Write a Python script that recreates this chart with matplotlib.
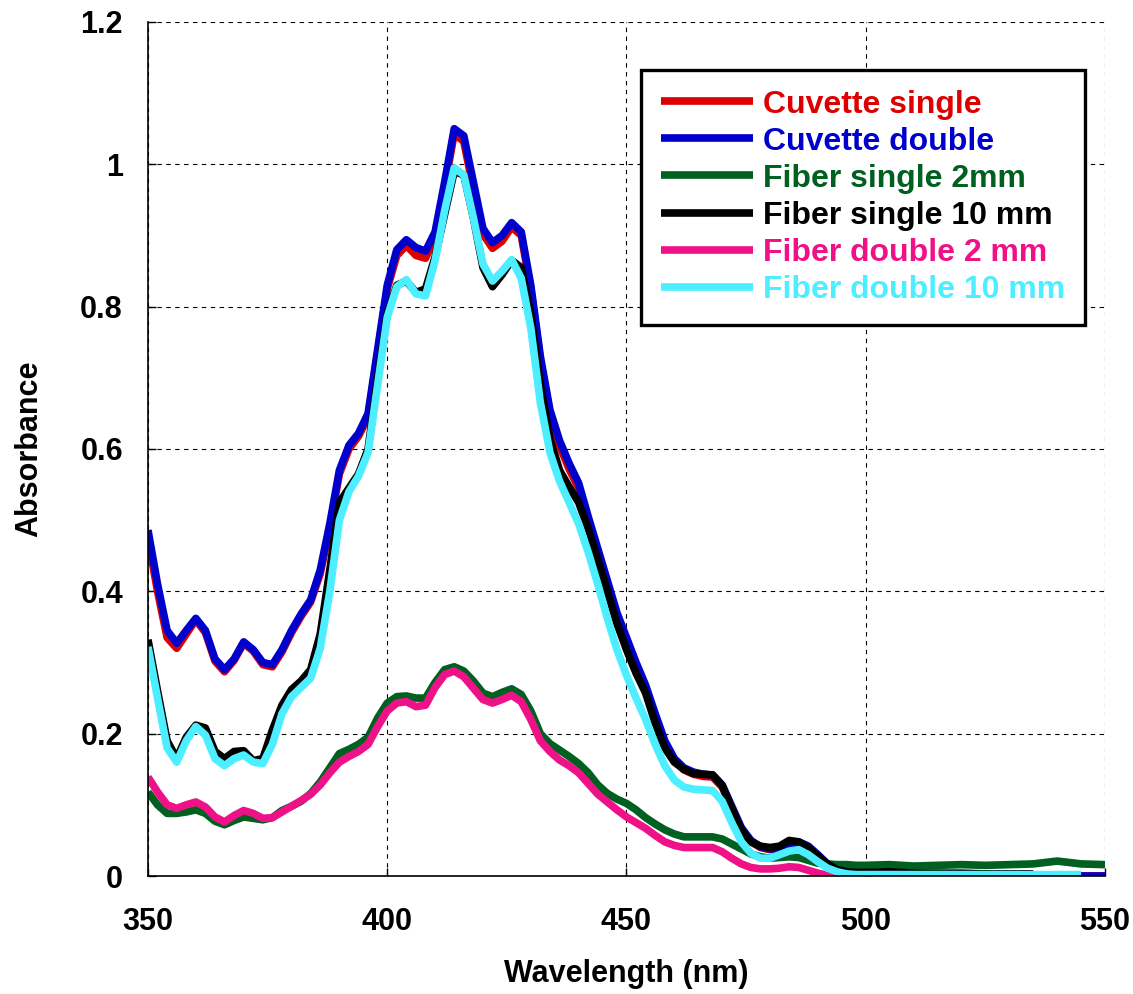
import numpy as np
import matplotlib
matplotlib.use("Agg")
import matplotlib.pyplot as plt

plt.rcParams['font.family'] = ['Liberation Sans', 'DejaVu Sans']
plt.rcParams['font.weight'] = 'bold'

# wavelength grid (nm)
wl = list(range(350, 501, 2)) + list(range(505, 551, 5))
nan = np.nan

cuvette_single = [
    0.475, 0.400, 0.335, 0.320, 0.340, 0.360, 0.342, 0.302, 0.287, 0.303,
    0.327, 0.316, 0.297, 0.294, 0.315, 0.342, 0.365, 0.385, 0.425, 0.490,
    0.565, 0.600, 0.618, 0.645, 0.735, 0.825, 0.872, 0.886, 0.872, 0.868,
    0.898, 0.968, 1.043, 1.032, 0.965, 0.902, 0.882, 0.892, 0.912, 0.900,
    0.825, 0.725, 0.650, 0.605, 0.572, 0.545, 0.498, 0.455, 0.410, 0.365,
    0.330, 0.296, 0.264, 0.224, 0.186, 0.162, 0.149, 0.143, 0.140, 0.139,
    0.125, 0.095, 0.066, 0.048, 0.040, 0.037, 0.037, 0.042, 0.046, 0.040,
    0.028, 0.015, 0.006, 0.002, 0.001, 0.000,
    0.000, 0.000, 0.000, 0.000, 0.000, 0.000, 0.000, 0.000, 0.000, 0.000]

cuvette_double = [
    0.486, 0.410, 0.345, 0.327, 0.345, 0.362, 0.345, 0.305, 0.290, 0.305,
    0.329, 0.318, 0.300, 0.297, 0.318, 0.345, 0.368, 0.388, 0.430, 0.495,
    0.570, 0.605, 0.622, 0.650, 0.740, 0.830, 0.880, 0.894, 0.883, 0.878,
    0.905, 0.975, 1.050, 1.040, 0.975, 0.910, 0.890, 0.900, 0.918, 0.905,
    0.830, 0.730, 0.655, 0.612, 0.580, 0.552, 0.505, 0.460, 0.415, 0.370,
    0.335, 0.300, 0.268, 0.228, 0.190, 0.165, 0.152, 0.146, 0.143, 0.142,
    0.128, 0.098, 0.068, 0.050, 0.041, 0.038, 0.038, 0.043, 0.048, 0.042,
    0.030, 0.017, 0.008, 0.004, 0.002, 0.001,
    0.000, 0.000, 0.000, 0.000, 0.000, 0.000, 0.000, 0.000, 0.000, 0.000]

fiber_single_2 = [
    0.118, 0.100, 0.088, 0.088, 0.090, 0.093, 0.088, 0.077, 0.072, 0.078,
    0.083, 0.081, 0.079, 0.082, 0.092, 0.098, 0.105, 0.116, 0.132, 0.152,
    0.172, 0.178, 0.185, 0.195, 0.222, 0.243, 0.252, 0.253, 0.250, 0.250,
    0.272, 0.290, 0.294, 0.288, 0.274, 0.257, 0.252, 0.258, 0.263, 0.255,
    0.232, 0.200, 0.186, 0.177, 0.168, 0.158, 0.145, 0.128, 0.116, 0.108,
    0.102, 0.093, 0.082, 0.073, 0.065, 0.059, 0.055, 0.055, 0.055, 0.055,
    0.052, 0.045, 0.038, 0.031, 0.027, 0.025, 0.026, 0.027, 0.026, 0.022,
    0.018, 0.017, 0.016, 0.016, 0.015, 0.015,
    0.016, 0.014, 0.015, 0.016, 0.015, 0.016, 0.017, 0.021, 0.017, 0.016]

fiber_single_10 = [
    0.332, 0.260, 0.190, 0.165, 0.195, 0.212, 0.208, 0.175, 0.165, 0.175,
    0.176, 0.162, 0.165, 0.205, 0.240, 0.262, 0.274, 0.290, 0.340, 0.430,
    0.525, 0.545, 0.565, 0.600, 0.700, 0.790, 0.830, 0.836, 0.820, 0.825,
    0.870, 0.930, 0.990, 0.985, 0.925, 0.855, 0.828, 0.845, 0.865, 0.855,
    0.790, 0.690, 0.615, 0.570, 0.547, 0.525, 0.488, 0.445, 0.400, 0.355,
    0.318, 0.285, 0.257, 0.215, 0.180, 0.160, 0.150, 0.144, 0.143, 0.142,
    0.127, 0.095, 0.065, 0.048, 0.042, 0.040, 0.042, 0.050, 0.048, 0.040,
    0.028, 0.017, 0.009, 0.006, 0.005, 0.005,
    0.006, 0.004, 0.004, 0.004, 0.003, 0.003, 0.003, nan, nan, nan]

fiber_double_2 = [
    0.139, 0.118, 0.100, 0.095, 0.100, 0.104, 0.097, 0.083, 0.076, 0.085,
    0.092, 0.088, 0.081, 0.082, 0.090, 0.098, 0.106, 0.115, 0.128, 0.145,
    0.160, 0.168, 0.175, 0.185, 0.210, 0.232, 0.243, 0.245, 0.238, 0.240,
    0.265, 0.283, 0.288, 0.280, 0.264, 0.248, 0.243, 0.248, 0.254, 0.245,
    0.220, 0.190, 0.175, 0.163, 0.155, 0.145, 0.130, 0.115, 0.104, 0.093,
    0.083, 0.075, 0.067, 0.057, 0.048, 0.043, 0.040, 0.040, 0.040, 0.040,
    0.034, 0.025, 0.017, 0.012, 0.010, 0.010, 0.011, 0.013, 0.012, 0.008,
    0.004, 0.001, 0.000, nan, nan, nan,
    nan, nan, nan, nan, nan, nan, nan, nan, nan, nan]

fiber_double_10 = [
    0.322, 0.250, 0.180, 0.160, 0.190, 0.210, 0.198, 0.165, 0.155, 0.165,
    0.170, 0.160, 0.158, 0.185, 0.228, 0.252, 0.265, 0.278, 0.320, 0.400,
    0.500, 0.540, 0.562, 0.595, 0.690, 0.785, 0.828, 0.838, 0.818, 0.815,
    0.865, 0.935, 0.995, 0.985, 0.925, 0.860, 0.836, 0.850, 0.866, 0.840,
    0.770, 0.665, 0.595, 0.555, 0.525, 0.495, 0.455, 0.410, 0.362, 0.318,
    0.282, 0.250, 0.220, 0.185, 0.155, 0.135, 0.125, 0.122, 0.121, 0.120,
    0.105, 0.075, 0.048, 0.032, 0.025, 0.025, 0.030, 0.035, 0.037, 0.030,
    0.020, 0.011, 0.006, 0.003, 0.002, 0.002,
    0.002, 0.002, 0.002, 0.002, 0.002, 0.002, 0.002, 0.002, 0.002, nan]

series = [
    ("Cuvette single", cuvette_single, "#dd0000"),
    ("Cuvette double", cuvette_double, "#0000cc"),
    ("Fiber single 2mm", fiber_single_2, "#006020"),
    ("Fiber single 10 mm", fiber_single_10, "#000000"),
    ("Fiber double 2 mm", fiber_double_2, "#ee1188"),
    ("Fiber double 10 mm", fiber_double_10, "#4deeff"),
]

fig = plt.figure(figsize=(11.33, 9.94), dpi=100)
ax = fig.add_axes([0.1306, 0.1187, 0.8447, 0.8592])

for name, vals, col in series:
    ax.plot(wl, vals, color=col, lw=5.5, label=name,
            solid_capstyle='butt', solid_joinstyle='round')

ax.set_xlim(350, 550)
ax.set_ylim(0, 1.2)
ax.set_xticks([350, 400, 450, 500, 550])
ax.set_yticks([0, 0.2, 0.4, 0.6, 0.8, 1.0, 1.2])
ax.set_yticklabels(['0', '0.2', '0.4', '0.6', '0.8', '1', '1.2'])

ax.grid(True, color='black', linestyle=(0, (4, 4)), linewidth=0.8)
ax.spines['top'].set_visible(False)
ax.spines['right'].set_visible(False)
ax.spines['left'].set_linewidth(1.2)
ax.spines['bottom'].set_linewidth(1.2)
ax.tick_params(axis='x', direction='in', length=6, width=1, labelsize=22, pad=22)
ax.tick_params(axis='y', direction='in', length=6, width=1, labelsize=22, pad=18)

ax.set_xlabel('Wavelength (nm)', fontsize=22, fontweight='bold', labelpad=16)
ax.set_ylabel('Absorbance', fontsize=22, fontweight='bold', labelpad=26)

leg = ax.legend(loc='upper right', bbox_to_anchor=(0.979, 0.944), fontsize=23,
                labelcolor='linecolor', handlelength=2.9, handletextpad=0.3,
                labelspacing=0.22, borderpad=0.62, borderaxespad=0,
                fancybox=False, framealpha=1, edgecolor='black')
leg.get_frame().set_linewidth(2.4)

fig.savefig('out.png', dpi=100)
